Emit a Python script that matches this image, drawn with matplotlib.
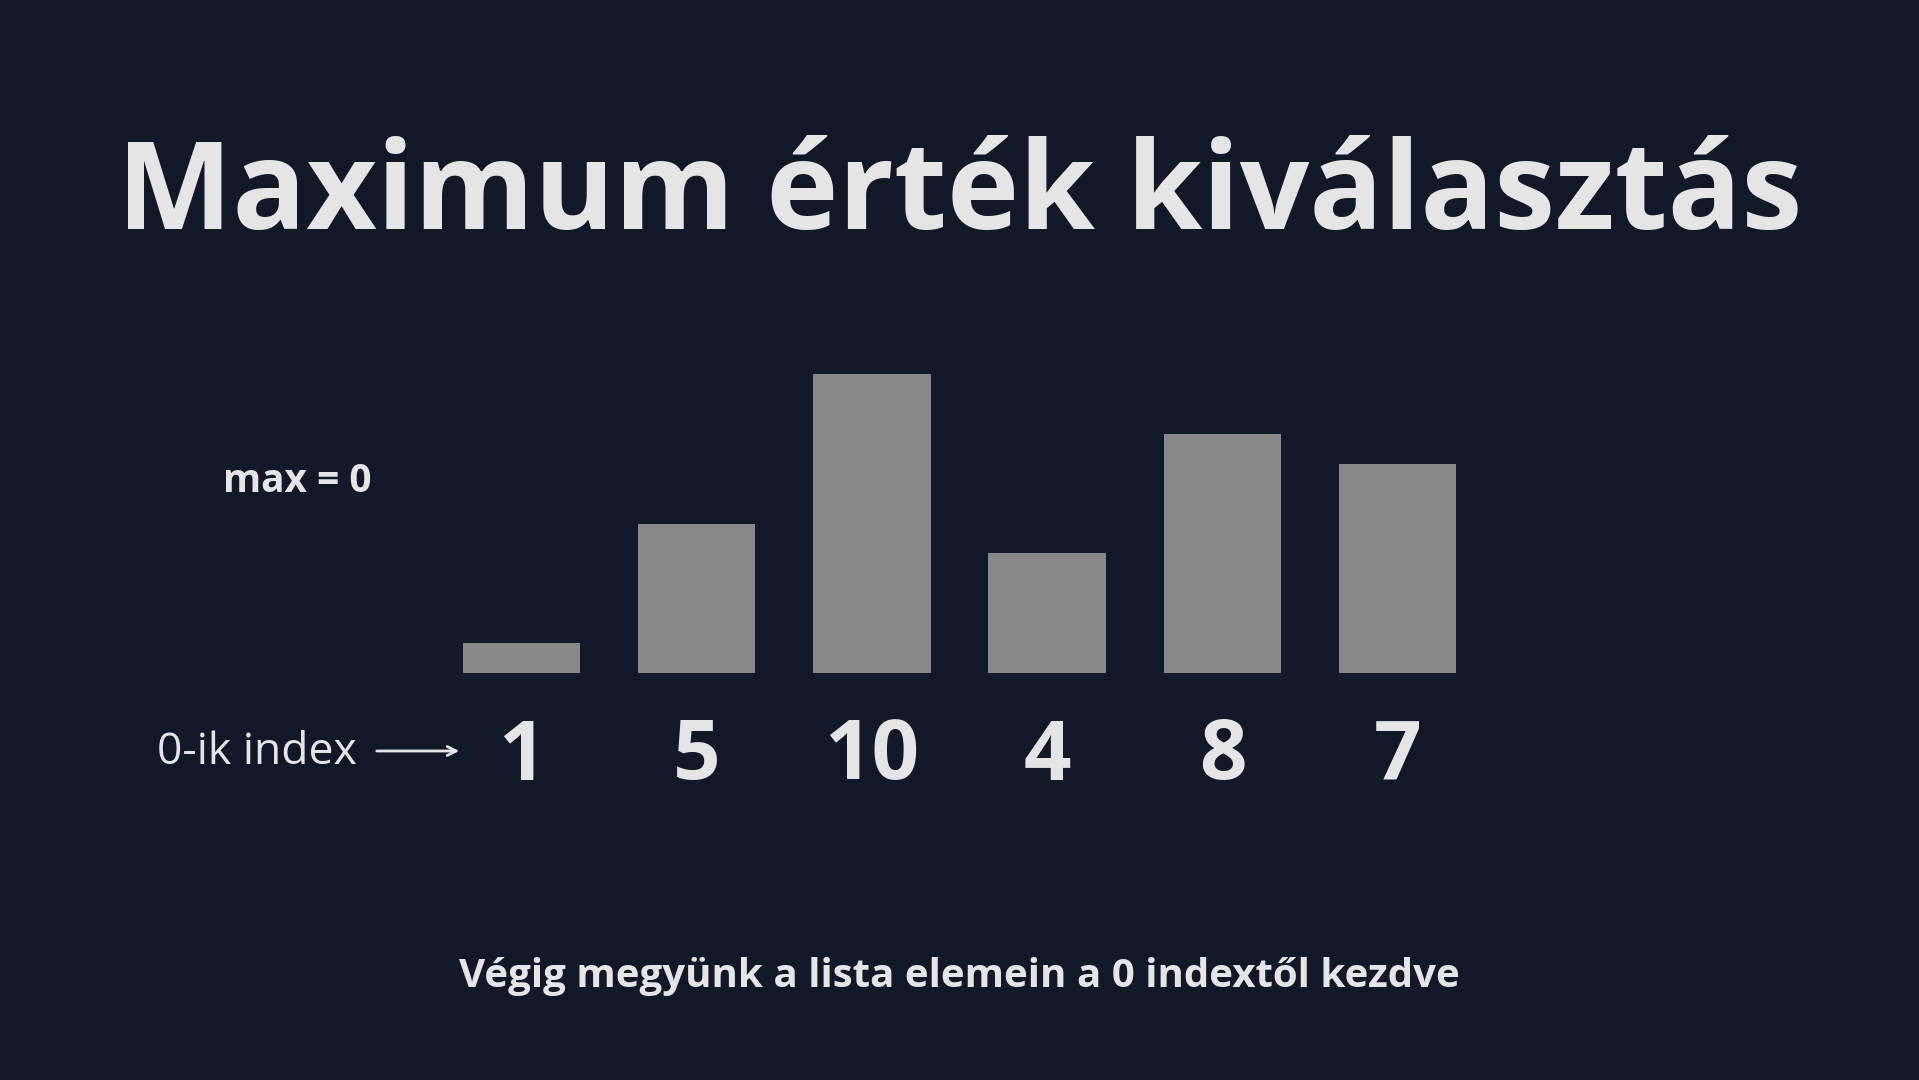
import matplotlib
matplotlib.use('Agg')
import matplotlib.pyplot as plt
import matplotlib.transforms as mtransforms

values = [1, 5, 10, 4, 8, 7]
labels = ['1', '5', '10', '4', '8', '7']
title = 'Maximum érték kiválasztás'
max_text = 'max = 0'
index_text = '0-ik index'
footer = 'Végig megyünk a lista elemein a 0 indextől kezdve'

bg = '#111827'
bar_color = '#888888'
text_color = '#e5e5e5'

plt.rcParams['font.family'] = ['Open Sans', 'DejaVu Sans']

fig = plt.figure(figsize=(19.19, 10.80), dpi=100, facecolor=bg)

# bar area: baseline at y=673px from top, 10 units = 299px
ax = fig.add_axes([433.8 / 1919, 407 / 1080, 1051.5 / 1919, 299 / 1080])
ax.set_facecolor('none')
x = range(len(values))
ax.bar(x, values, width=0.67, color=bar_color)
ax.set_xlim(-0.5, len(values) - 0.5)
ax.set_ylim(0, 10)
ax.axis('off')

trans = mtransforms.blended_transform_factory(ax.transData, fig.transFigure)
for i, lab in zip(x, labels):
    ax.text(i, 1 - 758 / 1080, lab, transform=trans, ha='center', va='center',
            fontsize=60, fontweight='bold', color=text_color)

fig.text(0.5, 1 - 197 / 1080, title, ha='center', va='center',
         fontsize=88, fontweight='bold', color=text_color)

fig.text(223 / 1919, 1 - 482 / 1080, max_text, ha='left', va='center',
         fontsize=28, fontweight='bold', color=text_color)

fig.text(157 / 1919, 1 - 753 / 1080, index_text, ha='left', va='center',
         fontsize=32, fontweight='normal', color=text_color)
fig.add_artist(matplotlib.patches.FancyArrowPatch(
    (374 / 1919, 1 - 751 / 1080), (462 / 1919, 1 - 751 / 1080),
    transform=fig.transFigure, arrowstyle='->', mutation_scale=16,
    color=text_color, lw=2))

fig.text(959 / 1919, 1 - 977 / 1080, footer, ha='center', va='center',
         fontsize=29, fontweight='bold', color=text_color)

fig.savefig('out.png', dpi=100, facecolor=bg)
